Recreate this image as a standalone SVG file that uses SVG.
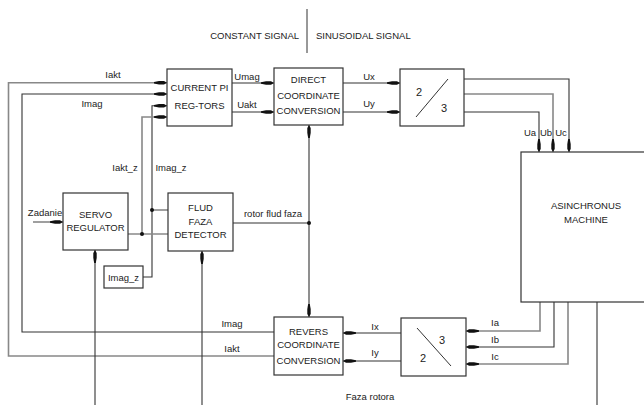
<svg xmlns="http://www.w3.org/2000/svg" width="644" height="405" viewBox="0 0 644 405">
<style>
text{font-family:"Liberation Sans",Arial,sans-serif;font-size:9.5px;fill:#222}
.c{text-anchor:middle}
.box{fill:#fff;stroke:#333;stroke-width:1.2}
.d{fill:none;stroke:#333;stroke-width:1.1}
.g{fill:none;stroke:#888;stroke-width:1.6}
.dot{fill:#111}
</style>
<defs>
<marker id="a" markerUnits="userSpaceOnUse" markerWidth="16" markerHeight="6" viewBox="-14 -3 15 6" refX="0" refY="0" orient="auto-start-reverse">
<path d="M-13,-0.8 L-8,-1.7 L-3,-1.7 L0,0 L-3,1.7 L-8,1.7 L-13,0.8Z" fill="#111"/>
</marker>
</defs>
<rect width="644" height="405" fill="#fff"/>
<text x="299" y="38.5" text-anchor="end">CONSTANT SIGNAL</text>
<line x1="307" y1="9" x2="307" y2="53" stroke="#333" stroke-width="1"/>
<text x="316" y="38.5">SINUSOIDAL SIGNAL</text>

<g id="connectors">
<path class="g" d="M274,356 H8.5 V82.7 H167" marker-end="url(#a)"/>
<path class="d" d="M274,332 H22 V94 H167" marker-end="url(#a)"/>
<path class="d" d="M143,277 H152 V105.7 H167" marker-end="url(#a)"/>
<path class="g" d="M152,210 H168"/>
<path class="g" d="M128,234 H168"/>
<path class="g" d="M142,234 V117 H167" marker-end="url(#a)"/>
<path class="d" d="M232,83 H274" marker-end="url(#a)"/>
<path class="d" d="M232,112 H274" marker-end="url(#a)"/>
<path class="d" d="M343,83 H400" marker-end="url(#a)"/>
<path class="d" d="M343,112 H400" marker-end="url(#a)"/>
<path class="d" d="M464,79 H569 V152" marker-end="url(#a)"/>
<path class="g" d="M464,94 H553 V152" marker-end="url(#a)"/>
<path class="d" d="M464,112 H539 V152" marker-end="url(#a)"/>
<path class="g" d="M540,302 V331 H466" marker-end="url(#a)"/>
<path class="d" d="M554,302 V347 H466" marker-end="url(#a)"/>
<path class="g" d="M568,302 V364 H466" marker-end="url(#a)"/>
<path class="d" d="M597,302 V405"/>
<path class="d" d="M401,333 H343" marker-end="url(#a)"/>
<path class="d" d="M401,361 H343" marker-end="url(#a)"/>
<path class="d" d="M309,125 V317" marker-start="url(#a)" marker-end="url(#a)"/>
<path class="d" d="M233,223 H309"/>
<path class="d" d="M95,405 V250" marker-end="url(#a)"/>
<path class="d" d="M202,405 V251" marker-end="url(#a)"/>
<path class="g" d="M33,222 H63" marker-end="url(#a)"/>
<circle class="dot" cx="152" cy="210" r="2"/>
<circle class="dot" cx="142" cy="234" r="2"/>
<circle class="dot" cx="309" cy="223" r="2"/>
</g>

<g id="labels">
<text class="c" x="113" y="78">Iakt</text>
<text class="c" x="92" y="106.5">Imag</text>
<text class="c" x="125" y="171">Iakt_z</text>
<text class="c" x="171" y="171">Imag_z</text>
<text class="c" x="247" y="80">Umag</text>
<text class="c" x="247" y="107.5">Uakt</text>
<text class="c" x="369" y="80">Ux</text>
<text class="c" x="369" y="106.5">Uy</text>
<text class="c" x="530" y="135.5">Ua</text>
<text class="c" x="546" y="135.5">Ub</text>
<text class="c" x="561" y="135.5">Uc</text>
<text class="c" x="45" y="216">Zadanie</text>
<text class="c" x="273" y="217">rotor flud faza</text>
<text class="c" x="232" y="327">Imag</text>
<text class="c" x="232" y="352">Iakt</text>
<text class="c" x="375" y="330">Ix</text>
<text class="c" x="375" y="356">Iy</text>
<text class="c" x="495" y="326">Ia</text>
<text class="c" x="495" y="343">Ib</text>
<text class="c" x="495" y="360">Ic</text>
<text class="c" x="370" y="400">Faza rotora</text>
</g>

<g id="current-pi">
<rect class="box" x="167" y="69" width="65" height="57"/>
<text class="c" x="199.5" y="91">CURRENT PI</text>
<text class="c" x="199.5" y="109">REG-TORS</text>
</g>
<g id="direct">
<rect class="box" x="274" y="68" width="69" height="57"/>
<text class="c" x="308.5" y="83">DIRECT</text>
<text class="c" x="308.5" y="98.5">COORDINATE</text>
<text class="c" x="308.5" y="114">CONVERSION</text>
</g>
<g id="conv23">
<rect class="box" x="400" y="69" width="64" height="57"/>
<line x1="416" y1="117" x2="448" y2="79" stroke="#333" stroke-width="1"/>
<text class="c" x="419" y="96" style="font-size:11px">2</text>
<text class="c" x="444" y="112" style="font-size:11px">3</text>
</g>
<g id="machine">
<rect class="box" x="521" y="152" width="130" height="150"/>
<text class="c" x="586" y="208.5">ASINCHRONUS</text>
<text class="c" x="586" y="222.5">MACHINE</text>
</g>
<g id="servo">
<rect class="box" x="63" y="193" width="65" height="57"/>
<text class="c" x="95.5" y="217.5">SERVO</text>
<text class="c" x="95.5" y="230.5">REGULATOR</text>
</g>
<g id="flud">
<rect class="box" x="168" y="193" width="65" height="58"/>
<text class="c" x="200.5" y="210.5">FLUD</text>
<text class="c" x="200.5" y="224.5">FAZA</text>
<text class="c" x="200.5" y="237.5">DETECTOR</text>
</g>
<g id="imag-z">
<rect class="box" x="104" y="266" width="39" height="22"/>
<text class="c" x="123.5" y="280.5">Imag_z</text>
</g>
<g id="revers">
<rect class="box" x="274" y="317" width="69" height="58"/>
<text class="c" x="308.5" y="335">REVERS</text>
<text class="c" x="308.5" y="348">COORDINATE</text>
<text class="c" x="308.5" y="364">CONVERSION</text>
</g>
<g id="conv32">
<rect class="box" x="401" y="318" width="65" height="58"/>
<line x1="417" y1="328" x2="451" y2="366" stroke="#333" stroke-width="1"/>
<text class="c" x="442" y="344" style="font-size:11px">3</text>
<text class="c" x="423" y="362" style="font-size:11px">2</text>
</g>
</svg>
